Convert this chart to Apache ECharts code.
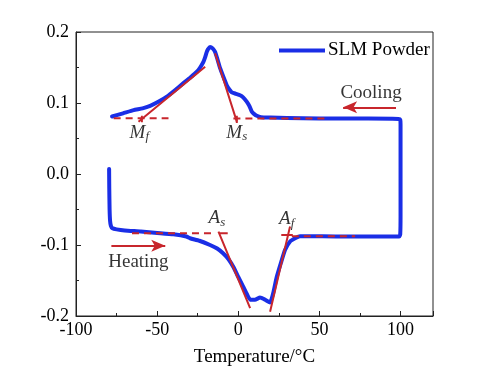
<!DOCTYPE html>
<html><head><meta charset="utf-8">
<script src="https://cdn.jsdelivr.net/npm/echarts@6/dist/echarts.min.js"></script>
<style>html,body{margin:0;padding:0;background:#fff}#c{width:495px;height:378px}</style>
</head><body><div id="c"></div>
<script>
// Heating branch (lower), then vertical at 100, then cooling branch (upper)
const heatX = [-79.6,-79.5,-79.3,-79.0,-78.5,-77.5,-75,-70,-60,-50,-40,-32,-29.7,-24,-17.4,-13,-9.2,-6,-3,0,3.1,5.3,7.3,10.3,13.4,16.5,19.6,21.5,23.7,26.3,28.8,31.9,35,38,44,60,80,99.2,99.8,100,100,99.8];
const heatY = [0.007,-0.02,-0.05,-0.066,-0.073,-0.0765,-0.078,-0.0795,-0.081,-0.083,-0.085,-0.088,-0.0905,-0.094,-0.100,-0.105,-0.112,-0.12,-0.131,-0.145,-0.159,-0.169,-0.177,-0.177,-0.174,-0.177,-0.181,-0.168,-0.145,-0.125,-0.107,-0.095,-0.0905,-0.0875,-0.0875,-0.088,-0.088,-0.088,-0.085,-0.06,0.07,0.0765];
const coolX = [98.8,80,60,40,20,14,11.4,9.5,8.3,6.8,5.2,3,1.1,-1.5,-4,-5.5,-7.1,-9.2,-11.2,-13,-14.3,-15.8,-17.4,-18.6,-19.4,-20.5,-21.5,-23.5,-25.5,-29.5,-33.8,-39,-44,-49,-54.3,-59,-64.5,-71,-77.8];
const coolY = [0.0775,0.078,0.078,0.0785,0.0795,0.080,0.082,0.085,0.088,0.096,0.102,0.108,0.111,0.113,0.115,0.119,0.125,0.137,0.149,0.163,0.172,0.177,0.179,0.176,0.172,0.164,0.158,0.15,0.144,0.136,0.128,0.118,0.109,0.102,0.096,0.0925,0.090,0.0855,0.081];

// Tangent / baseline construction lines: [x1,y1,x2,y2]
const tangentLines = [
  [-61.5,0.0737,-20.4,0.151],
  [-14.3,0.170,-0.9,0.0737],
  [-12.2,-0.081,7.3,-0.189],
  [19.6,-0.194,31.9,-0.074]
];
const tickMarks = [
  [-59.4,0.073,-59.4,0.082],
  [-0.9,0.072,-0.9,0.082],
  [-11.5,-0.0836,-6.5,-0.0836],
  [26.5,-0.086,33.6,-0.086]
];
const dashedLines = [
  [-76.8,0.0784,-43,0.0784],
  [-3,0.078,54.5,0.078],
  [-65.5,-0.0836,-16,-0.0836],
  [33,-0.0875,72,-0.0875]
];
const arrows = [
  [97.2,0.094,64.6,0.094],
  [-78.2,-0.101,-45,-0.101]
];
const phaseLabels = [
  {x:-61,y:0.058,main:'M',sub:'f'},
  {x:-0.9,y:0.058,main:'M',sub:'s'},
  {x:-13.2,y:-0.0625,main:'A',sub:'s'},
  {x:29.8,y:-0.064,main:'A',sub:'f'}
];
const textLabels = [
  {x:81.8,y:0.114,text:'Cooling'},
  {x:-61.6,y:-0.124,text:'Heating'}
];
const xTicks = [-100,-50,0,50,100];
const yTicks = [-0.2,-0.1,0.0,0.1,0.2];

const FONT = '"Liberation Serif","Times New Roman",serif';
const BLUE = '#1a2ee6';
const RED = '#c8262c';

const mainData = [];
heatX.forEach((x,i)=>mainData.push([x,heatY[i]]));
coolX.forEach((x,i)=>mainData.push([x,coolY[i]]));

function segSeries(segs, dashed, width){
  const d=[];
  segs.forEach(s=>{d.push([s[0],s[1]]);d.push([s[2],s[3]]);d.push([null,null]);});
  return {type:'line',data:d,showSymbol:false,silent:true,connectNulls:false,z:5,
    lineStyle:{color:RED,width:width,type:dashed?[7,5]:'solid'},animation:false};
}

const chart = echarts.init(document.getElementById('c'),null,{renderer:'canvas'});
chart.setOption({
  animation:false,
  textStyle:{fontFamily:FONT},
  grid:{left:76,top:32,right:62,bottom:62,show:true,borderColor:'#222',borderWidth:1,backgroundColor:'transparent'},
  legend:{data:['SLM Powder'],left:274,top:36,icon:'rect',itemWidth:46,itemHeight:4,itemGap:0,
    textStyle:{fontFamily:FONT,fontSize:19,color:'#000',padding:[0,0,0,-2]}},
  xAxis:{type:'value',min:xTicks[0],max:120,interval:50,
    axisLine:{onZero:false,lineStyle:{color:'#222'}},
    axisTick:{inside:true,length:5,lineStyle:{color:'#222'}},
    minorTick:{show:true,splitNumber:2,length:3,lineStyle:{color:'#222'}},
    splitLine:{show:false},
    axisLabel:{fontFamily:FONT,fontSize:18,color:'#000',margin:5,showMaxLabel:false,
      formatter:v=>xTicks.indexOf(v)>=0?String(v):''},
    name:'Temperature/°C',nameLocation:'middle',nameGap:32,
    nameTextStyle:{fontFamily:FONT,fontSize:19,color:'#000'}},
  yAxis:{type:'value',min:yTicks[0],max:yTicks[yTicks.length-1],interval:0.1,
    axisLine:{show:true,onZero:false,lineStyle:{color:'#222'}},
    axisTick:{show:true,inside:true,length:5,lineStyle:{color:'#222'}},
    minorTick:{show:true,splitNumber:2,length:3,lineStyle:{color:'#222'}},
    splitLine:{show:false},
    axisLabel:{fontFamily:FONT,fontSize:18,color:'#000',margin:7,formatter:v=>v.toFixed(1)}},
  series:[
    {name:'SLM Powder',type:'line',data:mainData,showSymbol:false,smooth:0.15,
      lineStyle:{color:BLUE,width:4,join:'round',cap:'round'},itemStyle:{color:BLUE},z:3},
    segSeries(tangentLines,false,2),
    segSeries(tickMarks,false,2),
    Object.assign(segSeries(dashedLines,true,2),{
      markLine:{silent:true,symbol:['none','arrow'],symbolSize:[9,14],label:{show:false},
        lineStyle:{color:RED,width:2,type:'solid'},
        data:arrows.map(a=>[{coord:[a[0],a[1]]},{coord:[a[2],a[3]]}])}}),
    {type:'scatter',symbolSize:0,silent:true,z:6,
      data:phaseLabels.map(p=>({value:[p.x,p.y],main:p.main,sub:p.sub})),
      label:{show:true,position:'inside',
        formatter:p=>'{m|'+p.data.main+'}{s|'+p.data.sub+'}',
        rich:{m:{fontFamily:FONT,fontStyle:'italic',fontSize:19,color:'#000'},
              s:{fontFamily:FONT,fontStyle:'italic',fontSize:13,color:'#000',verticalAlign:'bottom',padding:[8,0,0,0]}}}},
    {type:'scatter',symbolSize:0,silent:true,z:6,
      data:textLabels.map(t=>({value:[t.x,t.y],name:t.text})),
      label:{show:true,position:'inside',formatter:p=>p.name,fontFamily:FONT,fontSize:19,color:'#000'}}
  ]
});
</script></body></html>
